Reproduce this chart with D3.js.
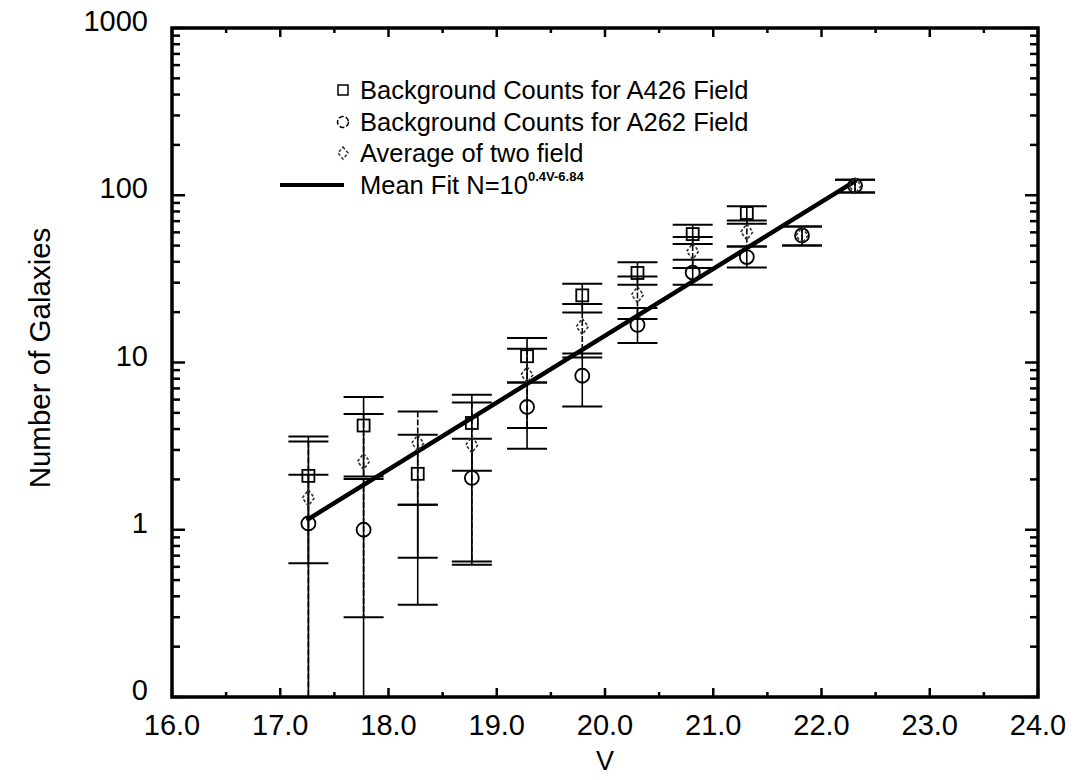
<!DOCTYPE html>
<html>
<head>
<meta charset="utf-8">
<script src="https://cdn.jsdelivr.net/npm/d3@7/dist/d3.min.js"></script>
<style>
  html, body { margin: 0; padding: 0; background: #fff; }
  svg { display: block; }
  text { font-family: "Liberation Sans", Arial, Helvetica, sans-serif; fill: #000; }
</style>
</head>
<body>
<svg id="chart" width="1082" height="780"></svg>
<script>
// Magnitude bins (V) where the counts are plotted
const magV = [17.26, 17.77, 18.27, 18.77, 19.28, 19.79, 20.30, 20.81, 21.31, 21.82, 22.31];

// Background counts for the A426 field (squares) with error-bar limits
const a426Val = [2.1, 4.2, 2.16, 4.35, 10.9, 25.2, 34.3, 58.6, 78.3, null, null];
const a426Lo  = [0.63, 2.08, 0.68, 2.25, 7.6, 19.9, 29.2, 51.1, 67.6, null, null];
const a426Hi  = [3.61, 6.21, 3.70, 6.41, 14.0, 29.6, 39.8, 66.6, 85.8, null, null];

// Background counts for the A262 field (circles); a lower limit of 0 runs to the axis
const a262Val = [1.09, 1.0, null, 2.04, 5.42, 8.33, 16.8, 34.5, 42.7, 57.5, 114];
const a262Lo  = [0, 0, 0.356, 0.618, 3.05, 5.46, 13.1, 29.2, 37.0, 50.1, 104];
const a262Hi  = [2.13, 2.01, 1.41, 3.50, 7.6, 11.3, 21.2, 41.1, 49.4, 65.1, 124];

// Average of the two fields (dotted diamonds)
const avgVal = [1.55, 2.56, 3.3, 3.22, 8.45, 16.4, 25.4, 46.2, 60.3, 57.5, 114];
const avgLo  = [0, 0.30, 1.41, 0.646, 4.06, 10.7, 18.2, 36.7, 49.4, 50.1, 104];
const avgHi  = [3.37, 4.92, 5.10, 5.77, 12.1, 22.4, 32.7, 56.3, 70.7, 65.1, 124];

// Mean fit N = 10^(0.4 V - 6.84), drawn across the observed range
const fitSlope = 0.4;
const fitZero = 6.84;
const fitRange = [17.26, 22.31];

// Axis ticks and labels
const xTickValues = [16, 17, 18, 19, 20, 21, 22, 23, 24];
const xTickLabels = ["16.0", "17.0", "18.0", "19.0", "20.0", "21.0", "22.0", "23.0", "24.0"];
const yTickValues = [0.1, 1, 10, 100, 1000];
const yTickLabels = ["0", "1", "10", "100", "1000"];

const legendLabels = [
  "Background Counts for A426 Field",
  "Background Counts for A262 Field",
  "Average of two field",
  "Mean Fit N=10"
];
const fitExponentLabel = "0.4V-6.84";

const svg = d3.select("#chart");
const plot = { left: 172, right: 1038, top: 28, bottom: 697 };

const x = d3.scaleLinear().domain([16, 24]).range([plot.left, plot.right]);
const y = d3.scaleLog().domain([0.1, 1000]).range([plot.bottom, plot.top]);

// ---- frame ticks (all pointing inward) ----
const ticks = svg.append("g").attr("stroke", "#000").attr("stroke-width", 2.5);
const halfSteps = d3.range(16, 24.01, 0.5);
halfSteps.forEach(v => {
  const major = Math.abs(v - Math.round(v)) < 1e-6;
  const len = major ? 9 : 5;
  ticks.append("line").attr("x1", x(v)).attr("x2", x(v))
    .attr("y1", plot.bottom).attr("y2", plot.bottom - len);
  ticks.append("line").attr("x1", x(v)).attr("x2", x(v))
    .attr("y1", plot.top).attr("y2", plot.top + len);
});
const logTicks = [];
for (let e = -1; e < 3; e++) {
  for (let m = 1; m <= 9; m++) logTicks.push(m * Math.pow(10, e));
}
logTicks.push(1000);
logTicks.forEach(v => {
  const lg = Math.log10(v);
  const major = Math.abs(lg - Math.round(lg)) < 1e-6;
  const len = major ? 13 : 8;
  ticks.append("line").attr("x1", plot.left).attr("x2", plot.left + len)
    .attr("y1", y(v)).attr("y2", y(v));
  ticks.append("line").attr("x1", plot.right).attr("x2", plot.right - len)
    .attr("y1", y(v)).attr("y2", y(v));
});

// ---- frame ----
svg.append("rect")
  .attr("x", plot.left).attr("y", plot.top)
  .attr("width", plot.right - plot.left).attr("height", plot.bottom - plot.top)
  .attr("fill", "none").attr("stroke", "#000").attr("stroke-width", 3.5);

// ---- tick labels ----
svg.append("g").selectAll("text").data(xTickValues).join("text")
  .attr("x", d => x(d)).attr("y", 735)
  .attr("text-anchor", "middle").attr("font-size", 29)
  .text((d, i) => xTickLabels[i]);

svg.append("g").selectAll("text").data(yTickValues).join("text")
  .attr("x", 148).attr("y", d => y(d) + 3)
  .attr("text-anchor", "end").attr("font-size", 29)
  .text((d, i) => yTickLabels[i]);

// ---- axis titles ----
svg.append("text").attr("x", x(20)).attr("y", 770)
  .attr("text-anchor", "middle").attr("font-size", 27).text("V");
svg.append("text")
  .attr("transform", "translate(50,358) rotate(-90)")
  .attr("text-anchor", "middle").attr("font-size", 29.5)
  .text("Number of Galaxies");

// ---- error bars ----
const capHalf = 20;
function errorBars(lo, hi, dashed) {
  const g = svg.append("g").attr("stroke", "#000").attr("fill", "none");
  magV.forEach((v, i) => {
    if (hi[i] == null) return;
    const cx = x(v);
    const yTop = y(hi[i]);
    const yBot = lo[i] > 0.1 ? y(lo[i]) : plot.bottom;
    g.append("line").attr("x1", cx).attr("x2", cx)
      .attr("y1", yTop).attr("y2", yBot)
      .attr("stroke-width", 1.6)
      .attr("stroke-dasharray", dashed ? "6,2" : null);
    g.append("line").attr("x1", cx - capHalf).attr("x2", cx + capHalf)
      .attr("y1", yTop).attr("y2", yTop).attr("stroke-width", 2);
    if (lo[i] > 0.1) {
      g.append("line").attr("x1", cx - capHalf).attr("x2", cx + capHalf)
        .attr("y1", yBot).attr("y2", yBot).attr("stroke-width", 2);
    }
  });
}
errorBars(a426Lo, a426Hi, false);
errorBars(a262Lo, a262Hi, false);
errorBars(avgLo, avgHi, true);

// ---- mean fit line ----
const fitN = v => Math.pow(10, fitSlope * v - fitZero);
svg.append("line")
  .attr("x1", x(fitRange[0])).attr("y1", y(fitN(fitRange[0])))
  .attr("x2", x(fitRange[1])).attr("y2", y(fitN(fitRange[1])))
  .attr("stroke", "#000").attr("stroke-width", 4.5).attr("stroke-linecap", "round");

// ---- markers ----
const diamondPath = (cx, cy, w, h) =>
  `M${cx},${cy - h} L${cx + w},${cy} L${cx},${cy + h} L${cx - w},${cy} Z`;

svg.append("g").selectAll("rect")
  .data(magV.map((v, i) => [v, a426Val[i]]).filter(d => d[1] != null))
  .join("rect")
  .attr("x", d => x(d[0]) - 6).attr("y", d => y(d[1]) - 6)
  .attr("width", 12).attr("height", 12)
  .attr("fill", "none").attr("stroke", "#000").attr("stroke-width", 1.8);

svg.append("g").selectAll("circle")
  .data(magV.map((v, i) => [v, a262Val[i]]).filter(d => d[1] != null))
  .join("circle")
  .attr("cx", d => x(d[0])).attr("cy", d => y(d[1])).attr("r", 7)
  .attr("fill", "none").attr("stroke", "#000").attr("stroke-width", 1.8);

svg.append("g").selectAll("path")
  .data(magV.map((v, i) => [v, avgVal[i]]).filter(d => d[1] != null))
  .join("path")
  .attr("d", d => diamondPath(x(d[0]), y(d[1]), 6, 8))
  .attr("fill", "none").attr("stroke", "#333").attr("stroke-width", 1.6)
  .attr("stroke-dasharray", "3,2").attr("stroke-linejoin", "round");

// ---- legend ----
const lg = svg.append("g");
const lgX = 343, lgTextX = 360, lgRows = [90, 122, 153, 185];
lg.append("rect").attr("x", lgX - 5).attr("y", lgRows[0] - 5)
  .attr("width", 10).attr("height", 10)
  .attr("fill", "none").attr("stroke", "#000").attr("stroke-width", 1.5);
lg.append("circle").attr("cx", lgX).attr("cy", lgRows[1]).attr("r", 5.5)
  .attr("fill", "none").attr("stroke", "#000").attr("stroke-width", 1.5)
  .attr("stroke-dasharray", "5,2");
lg.append("path").attr("d", diamondPath(lgX, lgRows[2], 5, 6))
  .attr("fill", "none").attr("stroke", "#333").attr("stroke-width", 1.5)
  .attr("stroke-dasharray", "3,2");
lg.append("line").attr("x1", 280).attr("x2", 344)
  .attr("y1", lgRows[3]).attr("y2", lgRows[3])
  .attr("stroke", "#000").attr("stroke-width", 4);

legendLabels.forEach((t, i) => {
  const txt = lg.append("text").attr("x", lgTextX).attr("y", lgRows[i] + 9)
    .attr("font-size", 25.5).text(t);
  if (i === 3) {
    txt.append("tspan").attr("dy", -13).attr("font-size", 13)
      .attr("font-weight", "bold").text(fitExponentLabel);
  }
});
</script>
</body>
</html>
